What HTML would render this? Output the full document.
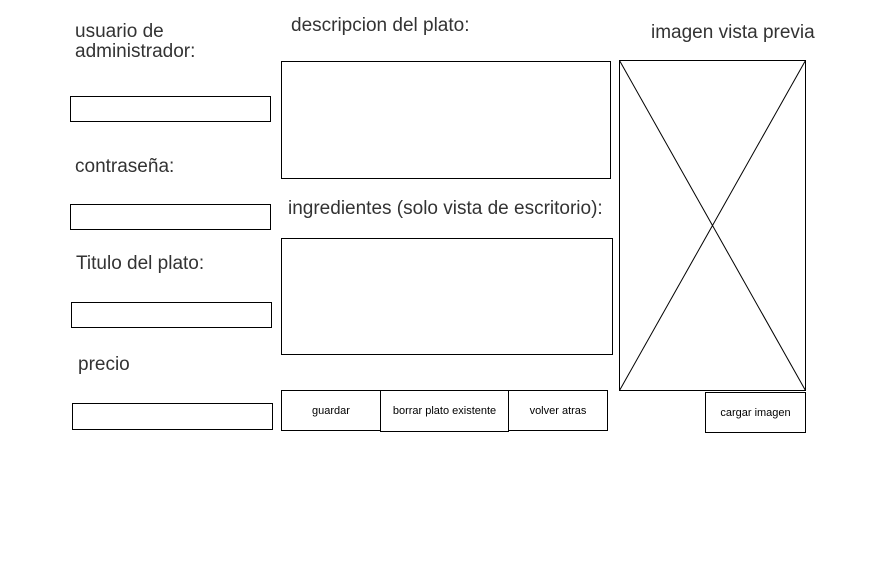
<!DOCTYPE html>
<html><head><meta charset="utf-8"><style>
body{margin:0;width:896px;height:575px;background:#fff;position:relative;font-family:"Liberation Sans",sans-serif;color:#333;overflow:hidden}
.t{position:absolute;font-size:19px;line-height:20px;white-space:nowrap}
.b{position:absolute;border:1px solid #000;background:#fff;box-sizing:border-box}
.btn{position:absolute;border:1px solid #000;background:#fff;box-sizing:border-box;font-size:11px;display:flex;align-items:center;justify-content:center;color:#000}
</style></head><body>
<div class="t" style="left:75px;top:22px">usuario de<br>administrador:</div>
<div class="b" style="left:70px;top:96px;width:201px;height:26px"></div>
<div class="t" style="left:75px;top:157px">contraseña:</div>
<div class="b" style="left:70px;top:204px;width:201px;height:26px"></div>
<div class="t" style="left:76px;top:254px">Titulo del plato:</div>
<div class="b" style="left:71px;top:302px;width:201px;height:26px"></div>
<div class="t" style="left:78px;top:355px">precio</div>
<div class="b" style="left:72px;top:403px;width:201px;height:27px"></div>
<div class="t" style="left:291px;top:16px">descripcion del plato:</div>
<div class="b" style="left:281px;top:61px;width:330px;height:118px"></div>
<div class="t" style="left:288px;top:199px">ingredientes (solo vista de escritorio):</div>
<div class="b" style="left:281px;top:238px;width:332px;height:117px"></div>
<div class="btn" style="left:281px;top:390px;width:100px;height:41px">guardar</div>
<div class="btn" style="left:508px;top:390px;width:100px;height:41px">volver atras</div>
<div class="btn" style="left:380px;top:390px;width:129px;height:42px">borrar plato existente</div>
<div class="t" style="left:651px;top:23px">imagen vista previa</div>
<svg style="position:absolute;left:0;top:0" width="896" height="575">
<rect x="619.5" y="60.5" width="186" height="330" fill="none" stroke="#000"/>
<line x1="619.5" y1="60.5" x2="805.5" y2="390.5" stroke="#000"/>
<line x1="805.5" y1="60.5" x2="619.5" y2="390.5" stroke="#000"/>
</svg>
<div class="btn" style="left:705px;top:392px;width:101px;height:41px">cargar imagen</div>
</body></html>
